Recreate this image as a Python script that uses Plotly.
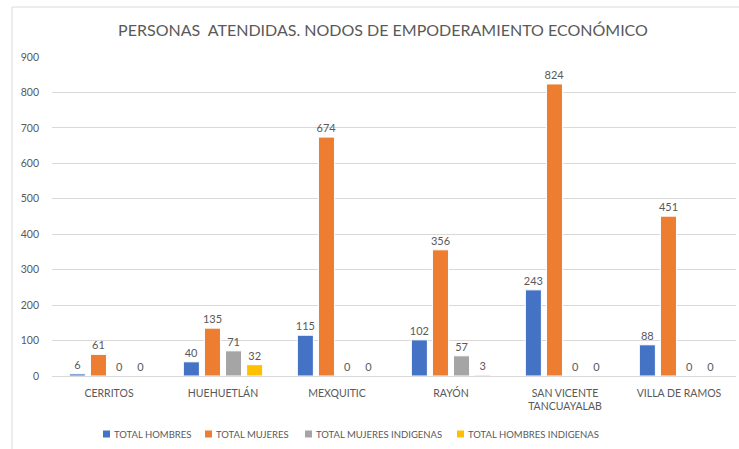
import plotly.graph_objects as go

categories = ["CERRITOS", "HUEHUETLÁN", "MEXQUITIC", "RAYÓN", "SAN VICENTE<br>TANCUAYALAB", "VILLA DE RAMOS"]
total_hombres = [6, 40, 115, 102, 243, 88]
total_mujeres = [61, 135, 674, 356, 824, 451]
total_mujeres_indigenas = [0, 71, 0, 57, 0, 0]
total_hombres_indigenas = [0, 32, 0, 3, 0, 0]
series_names = ["TOTAL HOMBRES", "TOTAL MUJERES", "TOTAL MUJERES INDIGENAS", "TOTAL HOMBRES INDIGENAS"]
colors = ["#4472C4", "#ED7D31", "#A5A5A5", "#FFC000"]
y_ticks = [0, 100, 200, 300, 400, 500, 600, 700, 800, 900]

FONT = "Lato"
GRAY = "#595959"

fig = go.Figure()
for name, vals, col in zip(series_names,
                           [total_hombres, total_mujeres, total_mujeres_indigenas, total_hombres_indigenas],
                           colors):
    fig.add_trace(go.Bar(
        x=categories, y=vals, name=name,
        marker=dict(color=col, line=dict(color="white", width=1)),
        text=vals, textposition="outside", cliponaxis=False,
        constraintext="none", textangle=0,
        textfont=dict(family=FONT, size=11, color=GRAY),
        showlegend=False, hoverinfo="skip",
    ))

W, H = 739, 449
L, R, T, B = 52, 3, 57, 73
pw = W - L - R
ph = H - T - B

def px_x(x):
    return (x - L) / pw

def px_y(y):
    return (H - B - y) / ph

shapes = [
    dict(type="line", xref="paper", yref="paper",
         x0=px_x(12), x1=px_x(745), y0=px_y(7), y1=px_y(7),
         line=dict(color="#D9D9D9", width=1)),
    dict(type="line", xref="paper", yref="paper",
         x0=px_x(12), x1=px_x(12), y0=px_y(7), y1=px_y(455),
         line=dict(color="#D9D9D9", width=1)),
]
annotations = []
legend_x = [103, 205, 305, 457]
legend_y = 434
for name, col, lx in zip(series_names, colors, legend_x):
    shapes.append(dict(type="rect", xref="paper", yref="paper",
                       x0=px_x(lx), x1=px_x(lx + 7),
                       y0=px_y(legend_y + 3.5), y1=px_y(legend_y - 3.5),
                       fillcolor=col, line=dict(width=0)))
    annotations.append(dict(text=name, xref="paper", yref="paper",
                            x=px_x(lx + 9), y=px_y(legend_y),
                            xanchor="left", yanchor="middle", showarrow=False,
                            font=dict(family=FONT, size=9.5, color=GRAY)))

fig.update_layout(
    width=W, height=H,
    margin=dict(l=L, r=R, t=T, b=B),
    paper_bgcolor="white", plot_bgcolor="white",
    barmode="group", bargap=0.26, bargroupgap=0.24,
    font=dict(family=FONT, color=GRAY),
    title=dict(text="PERSONAS  ATENDIDAS. NODOS DE EMPODERAMIENTO ECONÓMICO",
               x=383 / W, xref="container", xanchor="center",
               y=1 - 30 / H, yref="container", yanchor="middle",
               font=dict(family=FONT, size=16, color=GRAY)),
    showlegend=False,
    hovermode=False,
    xaxis=dict(showgrid=False, showline=False, ticks="", ticklabelstandoff=9,
               tickfont=dict(family=FONT, size=10.5, color=GRAY)),
    yaxis=dict(range=[0, 900], tickvals=y_ticks, showgrid=True, gridcolor="#D9D9D9",
               gridwidth=1, zeroline=True, zerolinecolor="#D9D9D9", zerolinewidth=1,
               showline=False, ticks="", ticklabelstandoff=12,
               tickfont=dict(family=FONT, size=10.5, color=GRAY)),
    shapes=shapes,
    annotations=annotations,
)

fig.write_html("out.html", config={"displayModeBar": False},
               post_script="document.body.style.margin='0';document.body.style.padding='0';")
